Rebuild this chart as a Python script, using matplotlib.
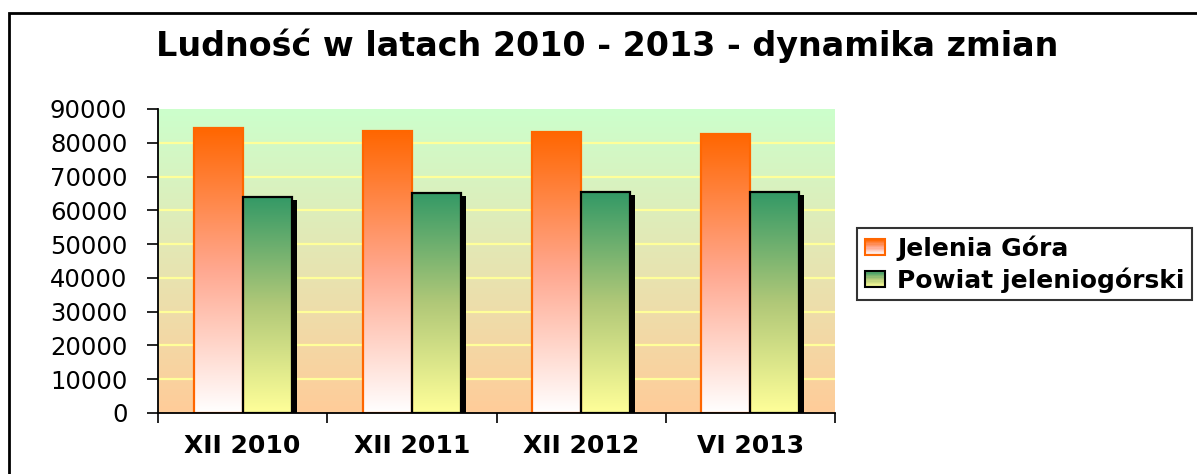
# wykres ludności Jelenia Góra / powiat jeleniogórski 2010-2013

import numpy as np
import matplotlib
matplotlib.use('Agg')
import matplotlib.pyplot as plt
from matplotlib.patches import Rectangle
from matplotlib.transforms import offset_copy
from matplotlib.legend_handler import HandlerBase
from matplotlib.colors import LinearSegmentedColormap

okresy = ['XII 2010', 'XII 2011', 'XII 2012', 'VI 2013']
jelenia_gora = [84400, 83500, 83200, 82700]
powiat = [64000, 65200, 65300, 65300]
serie = ['Jelenia Góra', 'Powiat jeleniogórski']
tytul = 'Ludność w latach 2010 - 2013 - dynamika zmian'

plt.rcParams['font.family'] = ['DejaVu Sans']

W, H = 1197, 474
fig = plt.figure(figsize=(W / 100, H / 100), dpi=100)
ax = fig.add_axes([158 / W, 1 - 413 / H, 677 / W, 304 / H])
ax.set_xlim(-0.5, 3.5)
ax.set_ylim(0, 90000)

# tło z gradientem (zielony u góry, brzoskwiniowy na dole)
tlo = LinearSegmentedColormap.from_list('tlo', ['#FFCC99', '#CCFFCC'])
ax.imshow(np.linspace(0, 1, 256).reshape(-1, 1), cmap=tlo, origin='lower',
          extent=[-0.5, 3.5, 0, 90000], aspect='auto', zorder=0)

for y in range(10000, 90000, 10000):
    ax.axhline(y, color='#FFFF99', lw=1.6, zorder=0.5)

cm_pom = LinearSegmentedColormap.from_list('pom', ['#FFFFFF', '#FFA890', '#FF6600'])
cm_ziel = LinearSegmentedColormap.from_list('ziel', ['#FFFF99', '#B0C878', '#339966'])

x = np.arange(len(okresy))
szer = 0.29

# cień pod słupkami powiatu
cien = offset_copy(ax.transData, fig=fig, x=5, y=-3, units='dots')
ax.bar(x + szer / 2, powiat, szer, color='black', transform=cien, zorder=1.5)

def gradient_bars(xs, vals, cmap, edge):
    bars = ax.bar(xs, vals, szer, facecolor='none', edgecolor=edge, lw=1.6, zorder=3)
    for b in bars:
        x0, w, h = b.get_x(), b.get_width(), b.get_height()
        im = ax.imshow(np.linspace(0, 1, 256).reshape(-1, 1), cmap=cmap, origin='lower',
                       extent=[x0, x0 + w, 0, h], aspect='auto', zorder=2)
        im.set_clip_path(b)
    return bars

b1 = gradient_bars(x - szer / 2, jelenia_gora, cm_pom, '#FF6600')
b2 = gradient_bars(x + szer / 2, powiat, cm_ziel, 'black')
ax.set_xlim(-0.5, 3.5)
ax.set_ylim(0, 90000)

for s in ['top', 'right']:
    ax.spines[s].set_visible(False)
for s in ['left', 'bottom']:
    ax.spines[s].set_linewidth(1.3)
    ax.spines[s].set_zorder(4)

ax.set_yticks(range(0, 90001, 10000))
ax.set_yticklabels([str(v) for v in range(0, 90001, 10000)])
ax.tick_params(axis='y', direction='out', length=8, width=1.2, pad=14, labelsize=17.5)

ax.set_xticks([-0.5, 0.5, 1.5, 2.5, 3.5])
ax.set_xticklabels([])
ax.tick_params(axis='x', which='major', direction='out', length=7, width=1.2)
ax.set_xticks(x, minor=True)
ax.set_xticklabels(okresy, minor=True, fontsize=18, fontweight='bold')
ax.tick_params(axis='x', which='minor', length=0, pad=15)

fig.text(607 / W, 1 - 46 / H, tytul, ha='center', va='center',
         fontsize=24, fontweight='bold')


class GradHandler(HandlerBase):
    def __init__(self, cmap, edge):
        super().__init__()
        self.cmap = cmap
        self.edge = edge

    def create_artists(self, legend, orig_handle, xd, yd, width, height, fontsize, trans):
        arts = []
        n = 12
        for i in range(n):
            c = self.cmap(1 - (i + 0.5) / n)
            arts.append(Rectangle((-xd, -yd + height * (1 - (i + 1) / n)), width, height / n,
                                  facecolor=c, edgecolor='none', transform=trans))
        arts.append(Rectangle((-xd, -yd), width, height, facecolor='none',
                              edgecolor=self.edge, lw=1.5, transform=trans))
        return arts


h1 = Rectangle((0, 0), 1, 1)
h2 = Rectangle((0, 0), 1, 1)
leg = fig.legend([h1, h2], serie, loc='upper left',
                 bbox_to_anchor=(857 / W, 1 - 228 / H),
                 handler_map={h1: GradHandler(cm_pom, '#FF6600'), h2: GradHandler(cm_ziel, 'black')},
                 prop={'weight': 'bold', 'size': 18}, frameon=True, fancybox=False,
                 edgecolor='black', handlelength=0.8, handleheight=0.6,
                 handletextpad=0.5, labelspacing=0.25, borderpad=0.3, borderaxespad=0)
leg.get_frame().set_linewidth(1.5)

# ramka całego wykresu
fig.add_artist(Rectangle((9 / W, -0.1), 1.2, (H - 13) / H + 0.1, transform=fig.transFigure,
                         fill=False, edgecolor='black', lw=2))

fig.savefig('out.png', dpi=100)
